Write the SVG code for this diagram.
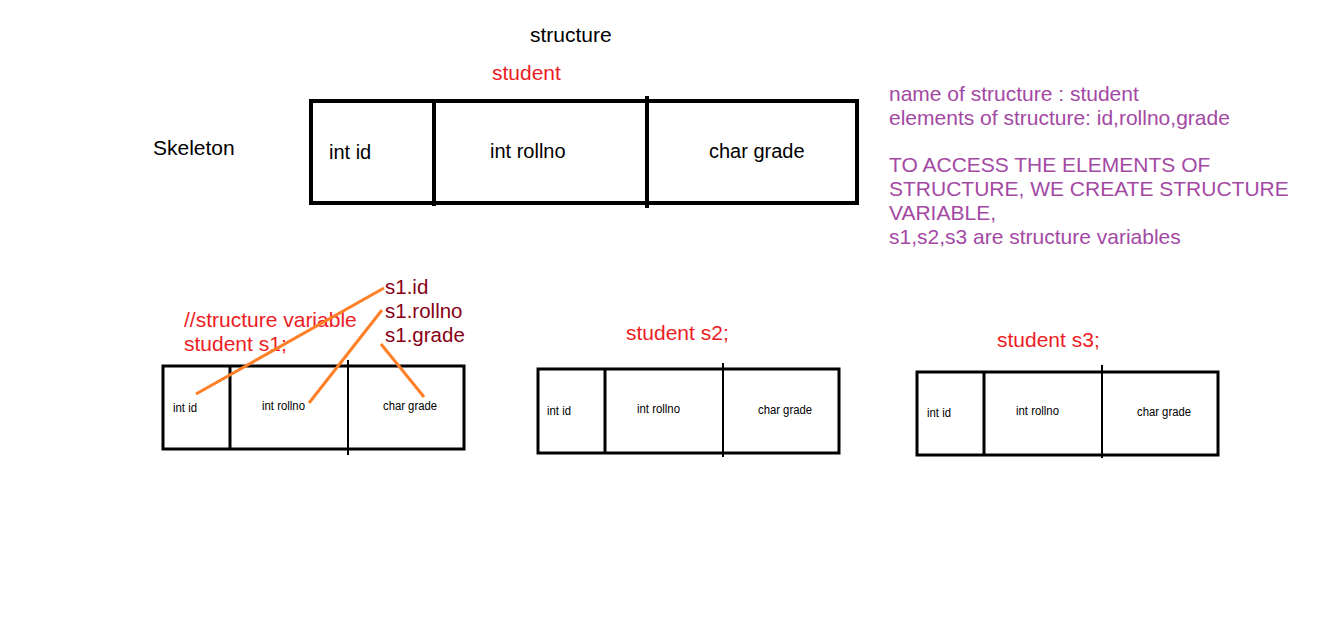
<svg xmlns="http://www.w3.org/2000/svg" width="1326" height="644" viewBox="0 0 1326 644">
<style>
text{font-family:"Liberation Sans",Arial,sans-serif}
.t{font-size:21px;fill:#000}
.red{font-size:21px;fill:#ed1c24}
.pur{font-size:21px;fill:#a349a4}
.dr{font-size:20.5px;fill:#880015}
.bt{font-size:20px;fill:#000}
.sm{font-size:12px;fill:#000}
.box{fill:none;stroke:#000;stroke-width:4}
.div{stroke:#000;stroke-width:4}
.box2{fill:none;stroke:#000;stroke-width:3}
.div2{stroke:#000;stroke-width:3}
.div3{stroke:#000;stroke-width:2}
.con{stroke:#ff7f27;stroke-width:3;fill:none}
</style>
<rect width="1326" height="644" fill="#fff"/>
<g id="titles">
<text class="t" x="530" y="42">structure</text>
<text class="red" x="492" y="80">student</text>
<text class="t" x="153" y="155">Skeleton</text>
</g>
<g id="skeleton">
<rect class="box" x="311" y="101" width="546" height="102"/>
<line class="div" x1="434" y1="101" x2="434" y2="206"/>
<line class="div" x1="647" y1="96" x2="647" y2="208"/>
<text class="bt" x="329" y="159">int id</text>
<text class="bt" x="490" y="158">int rollno</text>
<text class="bt" x="709" y="158">char grade</text>
</g>
<g id="notes">
<text class="pur" x="889" y="101">name of structure : student</text>
<text class="pur" x="889" y="125">elements of structure: id,rollno,grade</text>
<text class="pur" x="889" y="172">TO ACCESS THE ELEMENTS OF</text>
<text class="pur" x="889" y="196">STRUCTURE, WE CREATE STRUCTURE</text>
<text class="pur" x="889" y="220">VARIABLE,</text>
<text class="pur" x="889" y="244">s1,s2,s3 are structure variables</text>
</g>
<g id="s1">
<text class="red" x="184" y="327">//structure variable</text>
<text class="red" x="184" y="351">student s1;</text>
<text class="dr" x="385" y="294">s1.id</text>
<text class="dr" x="385" y="318">s1.rollno</text>
<text class="dr" x="385" y="342">s1.grade</text>
<rect class="box2" x="163" y="366" width="301" height="83"/>
<line class="div2" x1="230" y1="366" x2="230" y2="449"/>
<line class="div3" x1="348" y1="360" x2="348" y2="455"/>
<text class="sm" x="173" y="412" textLength="24" lengthAdjust="spacingAndGlyphs">int id</text>
<text class="sm" x="262" y="410" textLength="43" lengthAdjust="spacingAndGlyphs">int rollno</text>
<text class="sm" x="383" y="410" textLength="54" lengthAdjust="spacingAndGlyphs">char grade</text>
</g>
<g id="s2">
<text class="red" x="626" y="340">student s2;</text>
<rect class="box2" x="538" y="369" width="301" height="84"/>
<line class="div2" x1="605" y1="369" x2="605" y2="453"/>
<line class="div3" x1="723" y1="363" x2="723" y2="457"/>
<text class="sm" x="547" y="415" textLength="24" lengthAdjust="spacingAndGlyphs">int id</text>
<text class="sm" x="637" y="413" textLength="43" lengthAdjust="spacingAndGlyphs">int rollno</text>
<text class="sm" x="758" y="414" textLength="54" lengthAdjust="spacingAndGlyphs">char grade</text>
</g>
<g id="s3">
<text class="red" x="997" y="347">student s3;</text>
<rect class="box2" x="917" y="372" width="301" height="83"/>
<line class="div2" x1="984" y1="372" x2="984" y2="455"/>
<line class="div3" x1="1102" y1="365" x2="1102" y2="458"/>
<text class="sm" x="927" y="417" textLength="24" lengthAdjust="spacingAndGlyphs">int id</text>
<text class="sm" x="1016" y="415" textLength="43" lengthAdjust="spacingAndGlyphs">int rollno</text>
<text class="sm" x="1137" y="416" textLength="54" lengthAdjust="spacingAndGlyphs">char grade</text>
</g>
<g id="connectors">
<line class="con" x1="384" y1="288" x2="196" y2="394"/>
<line class="con" x1="382" y1="310" x2="309" y2="403"/>
<line class="con" x1="381" y1="344" x2="424" y2="397"/>
</g>
</svg>
